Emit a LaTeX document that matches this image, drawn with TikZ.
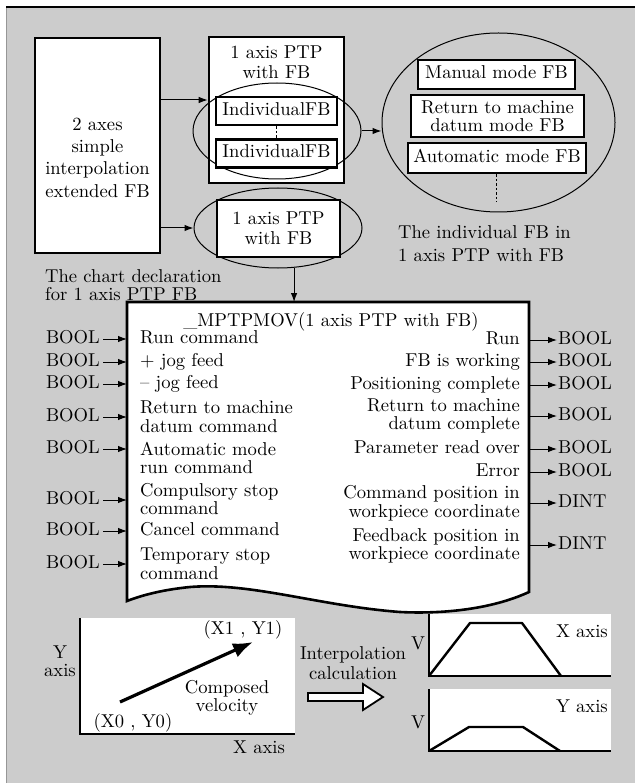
\documentclass[tikz,border=0pt]{standalone}
\usepackage{fontspec}
\setmainfont{lmroman10}[Extension=.otf, UprightFont=*-regular, BoldFont=*-bold, ItalicFont=*-italic, BoldItalicFont=*-bolditalic]
\usetikzlibrary{arrows.meta,shapes.geometric}
\definecolor{panel}{RGB}{204,204,204}
\definecolor{edgegray}{RGB}{150,150,150}
\begin{document}
\begin{tikzpicture}[x=1pt,y=-1pt,
  every node/.style={inner sep=0pt, font=\fontsize{18.6}{20}\selectfont},
  thickbox/.style={draw, line width=2.6pt, fill=white},
  thinell/.style={draw, ellipse, line width=1pt, inner sep=0pt},
  txt/.style={text height=12.5pt, text depth=3.5pt},
  two/.style={font=\fontsize{18.6}{18.5}\selectfont},
  arr/.style={-{Latex[length=9pt,width=6.5pt]}, line width=1pt},
  axisline/.style={line width=1.6pt},
  trap/.style={line width=2.4pt, line join=round},
]
\useasboundingbox (0,0) rectangle (635,783);
\fill[panel] (6,7) rectangle (635,783);
\draw[edgegray, line width=0.8pt] (6,7) -- (6,783);
\draw[line width=1.4pt] (6,7) -- (635,7);

% ---------- top left: extended FB
\node[thickbox, minimum width=125pt, minimum height=215pt] (ext) at (97.5,145.5) {};
\node[align=center, font=\fontsize{18.6}{22.3}\selectfont] (extT) at (97.5,157.5) {2 axes\\simple\\interpolation\\extended FB};

% ---------- 1 axis PTP with FB (with individual FBs)
\node[thickbox, minimum width=135pt, minimum height=146pt] (ptp) at (276.5,110) {};
\node[align=center] (ptpT) at (276.5,62) {1 axis PTP\\with FB};
\node[thinell, minimum width=168pt, minimum height=96pt] (e1) at (277,131) {};
\node[thickbox, minimum width=121pt, minimum height=28pt, txt] (ind1) at (276.5,111) {IndividualFB};
\node[thickbox, minimum width=121pt, minimum height=28pt, txt] (ind2) at (276.5,153.5) {IndividualFB};
\draw[dash pattern=on 2.5pt off 2pt, line width=0.8pt] (ind1.south) -- (ind2.north);

% ---------- second 1 axis PTP with FB
\node[thinell, minimum width=168pt, minimum height=80pt] (e2) at (278,228) {};
\node[thickbox, minimum width=123pt, minimum height=57pt, align=center] (ptp2) at (278.5,228.5) {1 axis PTP\\with FB};

% ---------- arrows from extended FB
\coordinate (r1) at (0,100);
\draw[arr] (ext.east |- r1) -- (ptp.west |- r1);
\draw[arr] (ext.east |- e2.west) -- (e2.west);

% ---------- big ellipse with the individual FBs
\node[thinell, minimum width=233pt, minimum height=179pt] (big) at (498.5,122.5) {};
\node[thickbox, minimum width=157pt, minimum height=29pt, txt] (man) at (496.5,74.5) {Manual mode FB};
\node[thickbox, minimum width=173pt, minimum height=42pt, align=center, two] (ret) at (497.5,116) {Return to machine\\datum mode FB};
\node[thickbox, minimum width=178pt, minimum height=30pt, txt] (auto) at (497,158) {Automatic mode FB};
\coordinate (dend) at (496,202);
\draw[dash pattern=on 2.5pt off 2pt, line width=0.8pt] (auto.south -| dend) -- (dend);
\draw[arr] (e1.east) -- (e1.east -| big.west);

% ---------- captions
\node[anchor=west, align=left, font=\fontsize{18.6}{23}\selectfont] (capR) at (398,243.5) {The individual FB in\\1 axis PTP with FB};
\node[anchor=west, align=left, font=\fontsize{18.6}{18}\selectfont] (capL) at (45,285.5) {The chart declaration\\for 1 axis PTP FB};

% ---------- the FB block
\coordinate (fbL) at (127,302);
\coordinate (fbR) at (529,302);
\coordinate (fbtop) at (294,302);
\draw[arr] (e2.-68) -- (e2.-68 |- fbtop);
\draw[line width=2.6pt, fill=white, line join=miter]
  (127,302) -- (529,302) -- (529,592)
  .. controls (490,610) and (440,614) .. (400,612)
  .. controls (320,606) and (250,582) .. (190,587)
  .. controls (160,590) and (140,596) .. (127,601) -- cycle;
\node[txt] (title) at (331,322) {\_MPTPMOV(1 axis PTP with FB)};

% inputs
\node[anchor=west, txt] (in1) at (140,339) {Run command};
\node[anchor=west, txt] (in2) at (140,362) {+ jog feed};
\node[anchor=west, txt] (in3) at (140,384) {– jog feed};
\node[anchor=west, align=left, two] (in4) at (140,416.5) {Return to machine\\datum command};
\node[anchor=west, align=left, two] (in5) at (140,458) {Automatic mode\\run command};
\node[anchor=west, align=left, two] (in6) at (140,499) {Compulsory stop\\command};
\node[anchor=west, txt] (in7) at (140,531) {Cancel command};
\node[anchor=west, align=left, two] (in8) at (140,564) {Temporary stop\\command};

\node[anchor=east, txt] (bi1) at (100,339) {BOOL};
\node[anchor=east, txt] (bi2) at (100,362) {BOOL};
\node[anchor=east, txt] (bi3) at (100,384) {BOOL};
\node[anchor=east, txt] (bi4) at (100,417) {BOOL};
\node[anchor=east, txt] (bi5) at (100,449) {BOOL};
\node[anchor=east, txt] (bi6) at (100,500) {BOOL};
\node[anchor=east, txt] (bi7) at (100,531) {BOOL};
\node[anchor=east, txt] (bi8) at (100,564) {BOOL};
\foreach \i in {1,...,8}{
  \draw[arr, shorten <=3pt] (bi\i.east) -- (bi\i.east -| fbL);
}

% outputs
\node[anchor=east, txt] (out1) at (520,340) {Run};
\node[anchor=east, txt] (out2) at (520,362) {FB is working};
\node[anchor=east, txt] (out3) at (520,385) {Positioning complete};
\node[anchor=east, align=right, two] (out4) at (520,416) {Return to machine\\datum complete};
\node[anchor=east, txt] (out5) at (520,449) {Parameter read over};
\node[anchor=east, txt] (out6) at (520,472) {Error};
\node[anchor=east, align=right, two] (out7) at (520,503) {Command position in\\workpiece coordinate};
\node[anchor=east, align=right, two] (out8) at (520,546) {Feedback position in\\workpiece coordinate};

\node[anchor=west, txt] (bo1) at (558,340) {BOOL};
\node[anchor=west, txt] (bo2) at (558,362) {BOOL};
\node[anchor=west, txt] (bo3) at (558,385) {BOOL};
\node[anchor=west, txt] (bo4) at (558,416) {BOOL};
\node[anchor=west, txt] (bo5) at (558,449) {BOOL};
\node[anchor=west, txt] (bo6) at (558,472) {BOOL};
\node[anchor=west, txt] (bo7) at (558,503) {DINT};
\node[anchor=west, txt] (bo8) at (558,545) {DINT};
\foreach \i in {1,...,8}{
  \draw[arr, shorten <=1.3pt, shorten >=1pt] (fbR |- bo\i.west) -- (bo\i.west);
}

% ---------- bottom left plot
\fill[white] (80,618) rectangle (295,734);
\draw[axisline] (80,618) -- (80,734) -- (295,734);
\coordinate (p0) at (120,702);
\coordinate (p1) at (253,642);
\draw[line width=3.2pt, -{Latex[length=20pt,width=15pt]}] (p0) -- (p1);
\node[align=center, font=\fontsize{18.6}{18}\selectfont] (yax) at (60,661) {Y\\axis};
\node[txt] (xax) at (259,749) {X axis};
\node[txt] (pt1) at (243,630) {(X1 , Y1)};
\node[txt] (pt0) at (133,723) {(X0 , Y0)};
\node[align=center, font=\fontsize{18.6}{18}\selectfont] (cv) at (227,698) {Composed\\velocity};

% ---------- interpolation arrow
\node[align=center] (interp) at (353,663) {Interpolation\\calculation};
\draw[line width=1.8pt, fill=white, line join=miter]
  (308,693) -- (363,693) -- (363,684) -- (383,697) -- (363,710) -- (363,701) -- (308,701) -- cycle;

% ---------- right plots
\fill[white] (428,614) rectangle (611,676);
\draw[axisline] (429,614) -- (429,676) -- (611,676);
\draw[trap] (429,676) -- (470,623) -- (522,623) -- (561,676);
\node[anchor=east, txt] (xlab) at (608,633) {X axis};
\node[txt] (v1) at (418,645) {V};

\fill[white] (428,689) rectangle (611,751);
\draw[axisline] (429,689) -- (429,751) -- (611,751);
\draw[trap] (429,751) -- (469,727) -- (523,727) -- (560,751);
\node[anchor=east, txt] (ylab) at (608,708) {Y axis};
\node[txt] (v2) at (418,724) {V};
\end{tikzpicture}
\end{document}
